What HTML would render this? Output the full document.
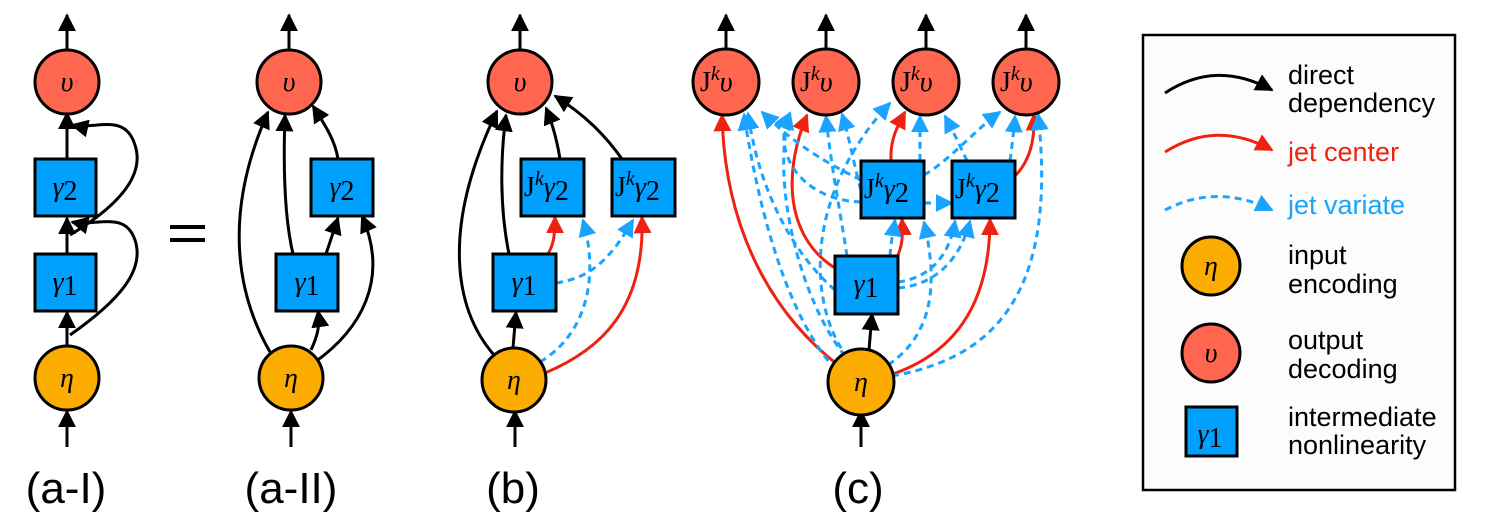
<!DOCTYPE html>
<html><head><meta charset="utf-8"><style>
html,body{margin:0;padding:0;background:#fff}
svg{display:block}
.m{font-family:"Liberation Serif",serif;font-style:italic;font-size:28px}
.r{font-family:"Liberation Serif",serif;font-style:normal;font-size:28px}
.k{font-family:"Liberation Serif",serif;font-style:italic;font-size:20px}
.lab{font-family:"Liberation Sans",sans-serif;font-size:44px}
.lg{font-family:"Liberation Sans",sans-serif;font-size:27px}
</style></head><body>
<svg width="1493" height="528" viewBox="0 0 1493 528" xmlns="http://www.w3.org/2000/svg">
<defs>
<marker id="ab" viewBox="0 0 10 10" refX="9" refY="5" markerWidth="6" markerHeight="6" orient="auto" markerUnits="strokeWidth"><path d="M0,0L10,5L0,10z" fill="#000"/></marker>
<marker id="ar" viewBox="0 0 10 10" refX="9" refY="5" markerWidth="6" markerHeight="6" orient="auto" markerUnits="strokeWidth"><path d="M0,0L10,5L0,10z" fill="#ee2211"/></marker>
<marker id="au" viewBox="0 0 10 10" refX="9" refY="5" markerWidth="6" markerHeight="6" orient="auto" markerUnits="strokeWidth"><path d="M0,0L10,5L0,10z" fill="#1aa3ff"/></marker>
</defs>
<g fill="none" stroke-width="3">
<!-- (a-I) -->
<g stroke="#000" marker-end="url(#ab)">
<path d="M67,50L67,15"/><path d="M67,159L67,113"/><path d="M67,254L67,218"/><path d="M67,346L67,312"/><path d="M67,447L67,411"/>
<path d="M70,335C120,300 145,270 135,240C125,210 95,227 72,222"/>
<path d="M70,235C120,205 145,175 135,145C125,112 95,130 72,125"/>
</g>
<!-- (a-II) -->
<g stroke="#000" marker-end="url(#ab)">
<path d="M289,50L289,15"/><path d="M291,447L291,411"/>
<path d="M270,352C240,300 220,220 268,112"/>
<path d="M293,254C285,220 283,170 285,115"/>
<path d="M338,159C335,140 325,125 313,106"/>
<path d="M326,254L338,218"/>
<path d="M311,350C318,335 320,325 318,311"/>
<path d="M315,362C360,330 390,280 362,216"/>
</g>
<!-- (b) -->
<g stroke="#000" marker-end="url(#ab)">
<path d="M520,50L520,15"/><path d="M515,447L515,411"/>
<path d="M494,355C455,310 440,230 497,111"/>
<path d="M509,254C500,210 500,160 506,115"/>
<path d="M560,159C557,140 553,125 546,108"/>
<path d="M622,159C605,135 585,115 555,96"/>
<path d="M513,348L516,312"/>
</g>
<path d="M548,254C553,245 555,238 555,217" stroke="#ee2211" marker-end="url(#ar)"/>
<path d="M545,373C600,350 645,310 642,217" stroke="#ee2211" marker-end="url(#ar)"/>
<g stroke="#1aa3ff" stroke-dasharray="7,5" marker-end="url(#au)">
<path d="M556,283C590,278 610,260 633,220"/>
<path d="M540,362C585,335 600,280 583,220"/>
</g>
<!-- (c) -->
<g stroke="#000" marker-end="url(#ab)">
<path d="M726,49L726,15"/><path d="M826,49L826,15"/><path d="M926,49L926,15"/><path d="M1026,49L1026,15"/>
<path d="M861,447L861,411"/><path d="M869,350L872,314"/>
</g>
<g stroke="#ee2211" marker-end="url(#ar)">
<path d="M838,365C780,320 725,240 722,115"/>
<path d="M835,268C790,240 780,180 807,115"/>
<path d="M898,255C902,245 903,238 902,219"/>
<path d="M891,160C890,140 897,127 905,112"/>
<path d="M890,375C950,355 990,310 990,219"/>
<path d="M1016,175C1030,160 1035,140 1034,114"/>
</g>
<g stroke="#1aa3ff" stroke-dasharray="7,5" marker-end="url(#au)">
<path d="M836,370C790,320 760,220 744,114"/>
<path d="M835,290C800,260 760,200 748,113"/>
<path d="M861,180C820,160 790,140 762,112"/>
<path d="M861,202C800,200 770,150 790,113"/>
<path d="M845,356C800,300 770,180 790,113"/>
<path d="M847,256C840,210 830,160 826,116"/>
<path d="M861,190C855,170 850,140 842,114"/>
<path d="M848,358C810,310 800,200 890,103"/>
<path d="M890,256C891,240 893,235 895,220"/>
<path d="M888,365C940,330 935,270 924,222"/>
<path d="M898,288C935,285 960,260 970,221"/>
<path d="M898,282C930,278 950,255 955,221"/>
<path d="M924,175C950,160 975,130 1000,112"/>
<path d="M1010,161C1012,145 1014,130 1015,116"/>
<path d="M920,161C920,145 920,130 920,116"/>
<path d="M967,161C962,150 955,135 945,116"/>
<path d="M924,203L952,203"/>
<path d="M892,376C980,360 1060,310 1038,114"/>
</g>
</g>
<!-- nodes -->
<g stroke="#000" stroke-width="3">
<circle cx="67" cy="82" r="32" fill="#ff6650"/>
<rect x="35" y="159" width="61" height="57" fill="#00a0ff"/>
<rect x="35" y="254" width="61" height="57" fill="#00a0ff"/>
<circle cx="67" cy="378" r="32" fill="#fcac00"/>
<circle cx="289" cy="82" r="32" fill="#ff6650"/>
<rect x="311" y="159" width="62" height="57" fill="#00a0ff"/>
<rect x="276" y="254" width="62" height="57" fill="#00a0ff"/>
<circle cx="291" cy="378" r="32" fill="#fcac00"/>
<circle cx="520" cy="82" r="32" fill="#ff6650"/>
<rect x="521" y="159" width="63" height="57" fill="#00a0ff"/>
<rect x="612" y="159" width="63" height="57" fill="#00a0ff"/>
<rect x="493" y="254" width="63" height="57" fill="#00a0ff"/>
<circle cx="514" cy="380" r="32" fill="#fcac00"/>
<circle cx="726" cy="82" r="33" fill="#ff6650"/>
<circle cx="826" cy="82" r="33" fill="#ff6650"/>
<circle cx="926" cy="82" r="33" fill="#ff6650"/>
<circle cx="1026" cy="82" r="33" fill="#ff6650"/>
<rect x="861" y="161" width="63" height="57" fill="#00a0ff"/>
<rect x="952" y="161" width="63" height="57" fill="#00a0ff"/>
<rect x="835" y="256" width="63" height="58" fill="#00a0ff"/>
<circle cx="861" cy="382" r="33" fill="#fcac00"/>
</g>
<rect x="170" y="225" width="35" height="4" fill="#000"/><rect x="170" y="238" width="35" height="4" fill="#000"/>
<!-- node labels -->
<g text-anchor="middle">
<text x="67" y="91" class="m">υ</text><text x="289" y="91" class="m">υ</text><text x="520" y="91" class="m">υ</text>
<text x="67" y="387" class="m">η</text><text x="291" y="387" class="m">η</text><text x="514" y="389" class="m">η</text><text x="861" y="391" class="m">η</text>
<text x="65" y="196"><tspan class="m">γ</tspan><tspan class="r" dy="4">2</tspan></text>
<text x="65" y="291"><tspan class="m">γ</tspan><tspan class="r" dy="4">1</tspan></text>
<text x="342" y="196"><tspan class="m">γ</tspan><tspan class="r" dy="4">2</tspan></text>
<text x="307" y="291"><tspan class="m">γ</tspan><tspan class="r" dy="4">1</tspan></text>
<text x="524" y="291"><tspan class="m">γ</tspan><tspan class="r" dy="4">1</tspan></text>
<text x="866" y="293"><tspan class="m">γ</tspan><tspan class="r" dy="4">1</tspan></text>
</g>
<g>
<text x="524" y="196"><tspan class="r">J</tspan><tspan class="k" dy="-11">k</tspan><tspan class="m" dy="11">γ</tspan><tspan class="r" dy="4">2</tspan></text>
<text x="615" y="196"><tspan class="r">J</tspan><tspan class="k" dy="-11">k</tspan><tspan class="m" dy="11">γ</tspan><tspan class="r" dy="4">2</tspan></text>
<text x="864" y="198"><tspan class="r">J</tspan><tspan class="k" dy="-11">k</tspan><tspan class="m" dy="11">γ</tspan><tspan class="r" dy="4">2</tspan></text>
<text x="955" y="198"><tspan class="r">J</tspan><tspan class="k" dy="-11">k</tspan><tspan class="m" dy="11">γ</tspan><tspan class="r" dy="4">2</tspan></text>
<text x="700" y="91"><tspan class="r">J</tspan><tspan class="k" dy="-11">k</tspan><tspan class="m" dy="11">υ</tspan></text>
<text x="800" y="91"><tspan class="r">J</tspan><tspan class="k" dy="-11">k</tspan><tspan class="m" dy="11">υ</tspan></text>
<text x="900" y="91"><tspan class="r">J</tspan><tspan class="k" dy="-11">k</tspan><tspan class="m" dy="11">υ</tspan></text>
<text x="1000" y="91"><tspan class="r">J</tspan><tspan class="k" dy="-11">k</tspan><tspan class="m" dy="11">υ</tspan></text>
</g>
<g class="lab" text-anchor="middle">
<text x="66" y="503">(a-I)</text><text x="291" y="503">(a-II)</text><text x="513" y="503">(b)</text><text x="858" y="503">(c)</text>
</g>
<!-- legend -->
<rect x="1143" y="35" width="312" height="455" fill="#fcfcfc" stroke="#000" stroke-width="2.5"/>
<g fill="none" stroke-width="3">
<path d="M1165,93C1200,70 1235,70 1272,90" stroke="#000" marker-end="url(#ab)"/>
<path d="M1165,152C1200,130 1235,130 1272,150" stroke="#ee2211" marker-end="url(#ar)"/>
<path d="M1165,210C1200,192 1235,192 1272,210" stroke="#1aa3ff" stroke-dasharray="7,5" marker-end="url(#au)"/>
</g>
<circle cx="1211" cy="266" r="29" fill="#fcac00" stroke="#000" stroke-width="3"/>
<circle cx="1211" cy="353" r="29" fill="#ff6650" stroke="#000" stroke-width="3"/>
<rect x="1186" y="407" width="51" height="49" fill="#00a0ff" stroke="#000" stroke-width="3"/>
<text x="1211" y="275" class="m" text-anchor="middle">η</text>
<text x="1211" y="362" class="m" text-anchor="middle">υ</text>
<text x="1210" y="443" text-anchor="middle"><tspan class="m">γ</tspan><tspan class="r" dy="4">1</tspan></text>
<g class="lg">
<text x="1288" y="84">direct</text><text x="1288" y="112">dependency</text>
<text x="1288" y="161" fill="#ee2211">jet center</text>
<text x="1288" y="214" fill="#1aa3ff">jet variate</text>
<text x="1288" y="264">input</text><text x="1288" y="293">encoding</text>
<text x="1288" y="349">output</text><text x="1288" y="378">decoding</text>
<text x="1288" y="426">intermediate</text><text x="1288" y="454">nonlinearity</text>
</g>
</svg>
</body></html>
